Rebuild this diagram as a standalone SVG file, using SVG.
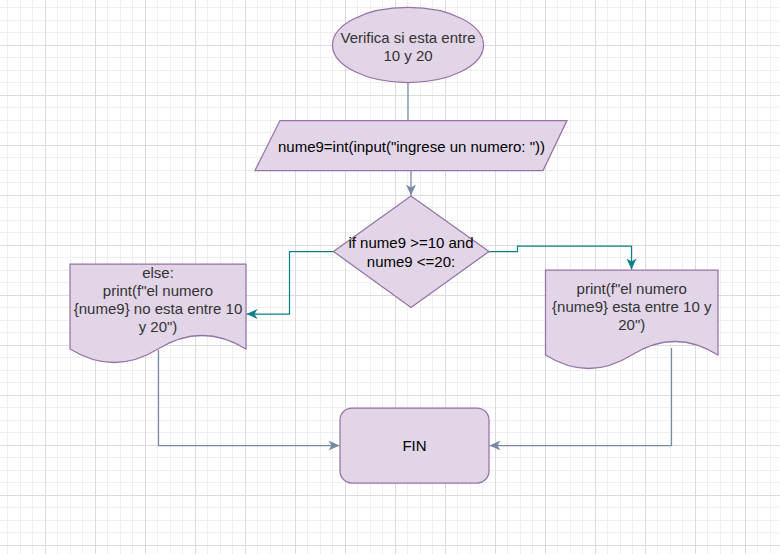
<svg xmlns="http://www.w3.org/2000/svg" width="780" height="554" viewBox="0 0 780 554">
<style>
.sh{fill:#e1d5e7;stroke:#9673a6;stroke-width:1.25}
.t{font-family:"Liberation Sans",Arial,sans-serif;font-size:15px;text-anchor:middle}
.k{fill:#000}
.g{fill:#333}
.cs{fill:none;stroke:#788AA3;stroke-width:1.25}
.ct{fill:none;stroke:#0e8088;stroke-width:1.25}
</style>
<defs>
<pattern id="grid" x="0" y="0" width="50" height="50" patternUnits="userSpaceOnUse">
<path d="M7.5,0V50M20.5,0V50M32.5,0V50M0,7.5H50M0,20.5H50M0,32.5H50" stroke="#efefef" stroke-width="1" fill="none"/>
<path d="M45.5,0V50M0,45.5H50" stroke="#dcdcdc" stroke-width="1" fill="none"/>
</pattern>
<marker id="aS" viewBox="-12 -6 13 12" refX="0" refY="0" markerWidth="13" markerHeight="12" markerUnits="userSpaceOnUse" orient="auto">
<path d="M0,0 L-11,-5 L-8,0 L-11,5 Z" fill="#788AA3"/>
</marker>
<marker id="aT" viewBox="-12 -6 13 12" refX="0" refY="0" markerWidth="13" markerHeight="12" markerUnits="userSpaceOnUse" orient="auto">
<path d="M0,0 L-11,-5 L-8,0 L-11,5 Z" fill="#0e8088"/>
</marker>
</defs>
<rect width="780" height="554" fill="#ffffff"/>
<rect width="780" height="554" fill="url(#grid)"/>

<g id="connectors">
<path class="cs" d="M408,82.5V120.5"/>
<path class="cs" d="M411,170.5V195.5" marker-end="url(#aS)"/>
<path class="ct" d="M333.5,251.5H289.5V314H246.5" marker-end="url(#aT)"/>
<path class="ct" d="M489,251.5H517.5V246H631.5V269.5" marker-end="url(#aT)"/>
<path class="cs" d="M158.5,350V445.5H339.5" marker-end="url(#aS)"/>
<path class="cs" d="M671.5,348V445.5H489.5" marker-end="url(#aS)"/>
</g>

<g id="start">
<ellipse class="sh" cx="408" cy="45" rx="75.5" ry="37.5"/>
<text class="t g" x="408" y="42.5">Verifica si esta entre</text>
<text class="t g" x="408" y="60.5">10 y 20</text>
</g>

<g id="input">
<path class="sh" d="M280,120.5H567L543,170.5H255Z"/>
<text class="t k" x="411.5" y="151.5">nume9=int(input("ingrese un numero: "))</text>
</g>

<g id="decision">
<path class="sh" d="M411,196L489,251.5L411,307.5L333.5,251.5Z"/>
<text class="t k" x="411" y="248">if nume9 &gt;=10 and</text>
<text class="t k" x="411" y="266.5">nume9 &lt;=20:</text>
</g>

<g id="else-doc">
<path class="sh" d="M70,264H246V349Q202,322 158,349Q114,376 70,349Z"/>
<text class="t g" x="158" y="278">else:</text>
<text class="t g" x="158" y="296">print(f"el numero</text>
<text class="t g" x="158" y="314">{nume9} no esta entre 10</text>
<text class="t g" x="158" y="332">y 20")</text>
</g>

<g id="then-doc">
<path class="sh" d="M545.5,270H718V355Q674.9,328 631.75,355Q588.6,382 545.5,355Z"/>
<text class="t g" x="631.75" y="293.7">print(f"el numero</text>
<text class="t g" x="631.75" y="311.7">{nume9} esta entre 10 y</text>
<text class="t g" x="631.75" y="329.7">20")</text>
</g>

<g id="end">
<rect class="sh" x="340" y="408" width="149" height="75" rx="12" ry="12"/>
<text class="t k" x="414.5" y="450.5">FIN</text>
</g>
</svg>
